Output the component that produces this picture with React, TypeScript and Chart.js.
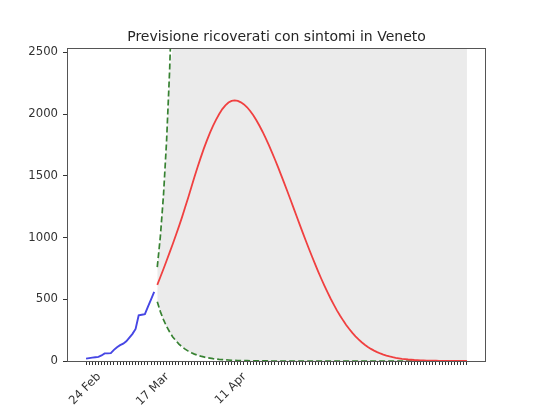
import React, { useEffect, useRef } from 'react';
import { Chart, registerables } from 'chart.js';

Chart.register(...registerables);

const TITLE = 'Previsione ricoverati con sintomi in Veneto';

// day index 0 = 24 Feb
const tickDays = [0, 22, 47];
const tickLabels = ['24 Feb', '17 Mar', '11 Apr'];
const LAST_DAY = 123;
const FORECAST_START = 23;
const yTicks = [0, 500, 1000, 1500, 2000, 2500];
const Y_MAX = 2535;

// observed hospitalised with symptoms, day 0..22
const observed = [19, 23, 27, 30, 33, 45, 62, 62, 64, 90, 112, 128, 140, 160, 190, 220, 260, 370, 375, 380, 440, 500, 560];

// forecast, day 23..123
const forecast = [
  616, 680, 745, 812, 880, 948, 1018, 1090, 1165, 1245,
  1325, 1408, 1490, 1570, 1645, 1718, 1785, 1848, 1905, 1955,
  2000, 2040, 2070, 2093, 2106, 2110, 2106, 2095, 2078, 2055,
  2025, 1990, 1950, 1905, 1857, 1805, 1750, 1692, 1632, 1570,
  1506, 1441, 1375, 1308, 1240, 1172, 1105, 1038, 972, 907,
  844, 782, 722, 664, 608, 555, 504, 456, 410, 368,
  329, 292, 259, 228, 200, 175, 152, 132, 114, 98,
  84, 72, 61, 52, 44, 37, 31, 26, 22, 18,
  15, 12, 10, 8, 7, 5, 4, 3, 3, 2,
  2, 1, 1, 1, 1, 0, 0, 0, 0, 0,
  0,
];

// upper bound (exponential), day 23..29
const upperBound = [760, 1010, 1340, 1780, 2360, 3140, 4170];

// lower bound, day 23..123
const lowerBound = [
  480, 400, 335, 280, 235, 195, 165, 137, 115, 96,
  80, 67, 56, 47, 39, 33, 27, 23, 19, 16,
  13, 11, 9, 8, 6, 5, 4, 4, 3, 3,
  2, 2, 2, 1, 1, 1, 1, 0, 0, 0,
  0, 0, 0, 0, 0, 0, 0, 0, 0, 0,
  0, 0, 0, 0, 0, 0, 0, 0, 0, 0,
  0, 0, 0, 0, 0, 0, 0, 0, 0, 0,
  0, 0, 0, 0, 0, 0, 0, 0, 0, 0,
  0, 0, 0, 0, 0, 0, 0, 0, 0, 0,
  0, 0, 0, 0, 0, 0, 0, 0, 0, 0,
  0,
];

const FONT = "'DejaVu Sans', sans-serif";

export default function App() {
  const ref = useRef<HTMLCanvasElement>(null);

  useEffect(() => {
    document.body.style.margin = '0';
    const canvas = ref.current;
    if (!canvas) return;

    const obsPts = observed.map((v, i) => ({ x: i, y: v }));
    const fcPts = forecast.map((v, i) => ({ x: FORECAST_START + i, y: v }));
    const upPts = upperBound.map((v, i) => ({ x: FORECAST_START + i, y: v }));
    const lowPts = lowerBound.map((v, i) => ({ x: FORECAST_START + i, y: v }));
    const fillTopPts = lowerBound.map((_, i) => ({
      x: FORECAST_START + i,
      y: Math.min(i < upperBound.length ? upperBound[i] : Y_MAX, Y_MAX),
    }));

    const span = LAST_DAY;
    const xMin = -0.05 * span;
    const xMax = LAST_DAY + 0.05 * span;

    const frame = {
      id: 'frame',
      afterDraw(chart: any) {
        const { ctx, chartArea } = chart;
        ctx.save();
        ctx.strokeStyle = '#555';
        ctx.lineWidth = 1;
        ctx.strokeRect(chartArea.left + 0.5, chartArea.top + 0.5, chartArea.right - chartArea.left - 1, chartArea.bottom - chartArea.top);
        ctx.fillStyle = '#262626';
        ctx.font = `14px ${FONT}`;
        ctx.textAlign = 'center';
        ctx.textBaseline = 'alphabetic';
        ctx.fillText(TITLE, (chartArea.left + chartArea.right) / 2, 41);
        ctx.restore();
      },
    };

    const chart = new Chart(canvas, {
      type: 'line',
      data: {
        datasets: [
          {
            label: 'osservati',
            data: obsPts,
            borderColor: '#4646e4',
            borderWidth: 1.9,
            pointRadius: 0,
            fill: false,
          },
          {
            label: 'previsione',
            data: fcPts,
            borderColor: '#f04040',
            borderWidth: 1.8,
            pointRadius: 0,
            fill: false,
          },
          {
            label: 'limite superiore',
            data: upPts,
            borderColor: 'rgb(55,130,50)',
            borderWidth: 1.7,
            borderDash: [6, 3],
            pointRadius: 0,
            fill: false,
          },
          {
            label: 'limite inferiore',
            data: lowPts,
            borderColor: 'rgb(55,130,50)',
            borderWidth: 1.7,
            borderDash: [6, 3],
            pointRadius: 0,
            fill: false,
          },
          {
            label: 'intervallo',
            data: fillTopPts,
            borderWidth: 0,
            borderColor: 'rgba(0,0,0,0)',
            backgroundColor: '#ebebeb',
            pointRadius: 0,
            fill: { target: 3, above: '#ebebeb', below: '#ebebeb' },
          },
        ],
      },
      options: {
        animation: false,
        responsive: false,
        devicePixelRatio: 1,
        layout: { padding: { left: 0, top: 48, right: 54, bottom: 0 } },
        plugins: {
          legend: { display: false },
          tooltip: { enabled: false },
          title: { display: false },
        },
        scales: {
          x: {
            type: 'linear',
            min: xMin,
            max: xMax,
            afterBuildTicks: (scale: any) => {
              const t = [];
              for (let d = 0; d <= LAST_DAY; d++) t.push({ value: d });
              scale.ticks = t;
            },
            afterFit: (scale: any) => {
              scale.height = 44;
            },
            grid: {
              display: true,
              drawOnChartArea: false,
              drawTicks: true,
              tickLength: 4,
              tickColor: '#333',
              tickWidth: 1,
            },
            border: { display: false },
            ticks: {
              autoSkip: false,
              minRotation: 45,
              maxRotation: 45,
              padding: 5,
              labelOffset: 13,
              color: '#333',
              font: { family: FONT, size: 11.7 },
              callback: (value: any) => {
                const k = tickDays.indexOf(Number(value));
                return k >= 0 ? tickLabels[k] : '';
              },
            },
          },
          y: {
            type: 'linear',
            min: 0,
            max: Y_MAX,
            afterBuildTicks: (scale: any) => {
              scale.ticks = yTicks.map((v) => ({ value: v }));
            },
            afterFit: (scale: any) => {
              scale.width = 67;
            },
            grid: {
              display: true,
              drawOnChartArea: false,
              drawTicks: true,
              tickLength: 4,
              tickColor: '#333',
              tickWidth: 1,
            },
            border: { display: false },
            ticks: {
              padding: 5,
              color: '#333',
              font: { family: FONT, size: 11.7 },
              callback: (value: any) => String(value),
            },
          },
        },
      },
      plugins: [frame],
    });

    return () => chart.destroy();
  }, []);

  return (
    <div style={{ position: 'absolute', left: 0, top: 0, width: 540, height: 405 }}>
      <canvas ref={ref} width={540} height={405} />
    </div>
  );
}
